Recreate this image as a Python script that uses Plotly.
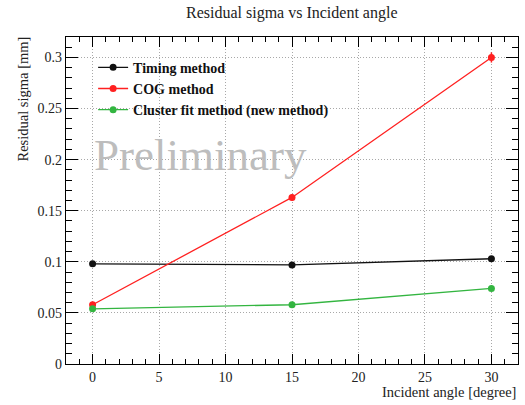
import plotly.graph_objects as go

angles = [0, 15, 30]
timing = [0.098, 0.097, 0.103]
timing_err = [0.001, 0.001, 0.001]
cog = [0.058, 0.163, 0.300]
cog_err = [0.002, 0.003, 0.005]
cluster = [0.054, 0.058, 0.074]
cluster_err = [0.001, 0.001, 0.001]

names = ["Timing method", "COG method", "Cluster fit method (new method)"]
colors = ["#111111", "#ff2020", "#33b540"]

FONT = "Liberation Serif, Times New Roman, serif"

fig = go.Figure()
for name, ys, es, c in zip(names, [timing, cog, cluster], [timing_err, cog_err, cluster_err], colors):
    fig.add_trace(go.Scatter(
        x=angles, y=ys, name=name, mode="lines+markers",
        line=dict(color=c, width=1.3),
        marker=dict(color=c, size=7),
        error_y=dict(type="data", array=es, color=c, thickness=1.5, width=0),
    ))

axis_common = dict(
    showline=True, linecolor="black", linewidth=1.3, mirror="allticks",
    ticks="inside", tickcolor="black", tickwidth=1,
    showgrid=True, gridcolor="#a8a8a8", griddash="1px,2px", gridwidth=1,
    zeroline=False,
    tickfont=dict(family=FONT, size=14, color="#222"),
)

fig.update_xaxes(
    range=[-2, 32], tick0=0, dtick=5, ticklen=10,
    minor=dict(dtick=1, ticks="inside", ticklen=5, tickcolor="black", showgrid=False),
    **axis_common,
)
fig.update_yaxes(
    range=[0, 0.32], tick0=0, dtick=0.05, ticklen=12,
    tickvals=[0, 0.05, 0.1, 0.15, 0.2, 0.25, 0.3],
    ticktext=["0", "0.05", "0.1", "0.15", "0.2", "0.25", "0.3"],
    minor=dict(dtick=0.01, ticks="inside", ticklen=6, tickcolor="black", showgrid=False),
    **axis_common,
)

fig.add_annotation(text="Residual sigma vs Incident angle", xref="paper", yref="paper",
                   x=0.5, y=1, yshift=13, yanchor="bottom", showarrow=False,
                   font=dict(family=FONT, size=16, color="#222"))
fig.add_annotation(text="Residual sigma [mm]", xref="paper", yref="paper",
                   x=0, xshift=-44, y=1, yshift=2, yanchor="top", xanchor="center", textangle=-90,
                   showarrow=False, font=dict(family=FONT, size=14.5, color="#222"))
fig.add_annotation(text="Incident angle [degree]", xref="paper", yref="paper",
                   x=1, y=0, yshift=-18, xanchor="right", yanchor="top", showarrow=False,
                   font=dict(family=FONT, size=14.5, color="#222"))
fig.add_annotation(text="Preliminary", xref="paper", yref="paper",
                   x=0.058, y=0.638, xanchor="left", yanchor="middle", showarrow=False,
                   font=dict(family=FONT, size=45, color="#bdbdbd"))

fig.update_layout(
    width=525, height=405,
    margin=dict(l=66, r=7, t=37, b=41),
    paper_bgcolor="white", plot_bgcolor="white",
    showlegend=True,
    legend=dict(x=0.06, y=0.955, xanchor="left", yanchor="top",
                bgcolor="rgba(0,0,0,0)", borderwidth=0,
                font=dict(family=FONT, size=14, color="#111", weight="bold"),
                tracegroupgap=0, itemwidth=30),
)

fig.write_html("out.html", config={"displayModeBar": False},
               post_script="document.body.style.margin='0';document.body.style.overflow='hidden';")
